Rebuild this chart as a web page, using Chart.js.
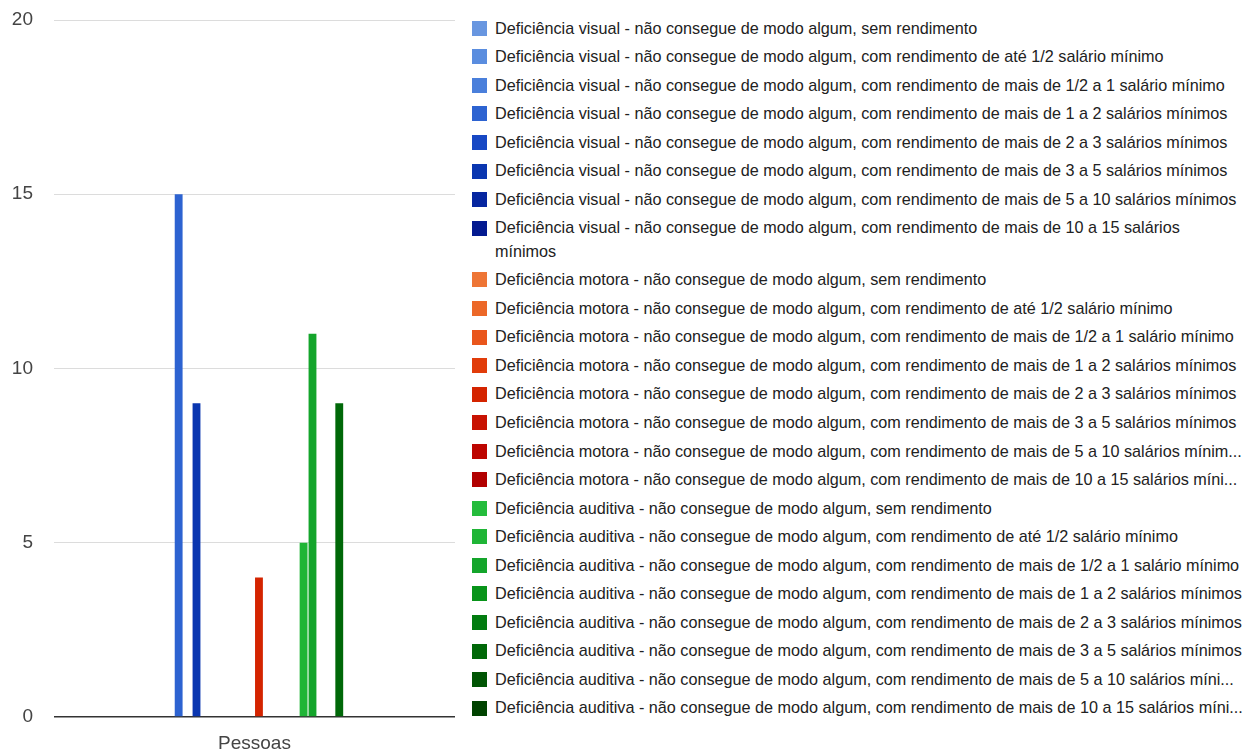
<!DOCTYPE html>
<html><head><meta charset="utf-8">
<script src="https://cdn.jsdelivr.net/npm/chart.js@4/dist/chart.umd.min.js"></script>
<style>
html,body{margin:0;padding:0;background:#fff;}
#wrap{position:relative;width:1255px;height:754px;overflow:hidden;background:#fff;}
#chartBox{position:absolute;left:0;top:0;width:470px;height:754px;}
#legend{position:absolute;left:472px;top:16.6px;font-family:Arial,"Liberation Sans",sans-serif;font-size:16.2px;color:#222;}
.item{display:flex;align-items:flex-start;line-height:23.3px;padding-bottom:5.25px;}
.sw{width:15px;height:15px;margin-top:4.2px;margin-right:8px;flex:none;}
.txt{white-space:pre;}
</style></head>
<body>
<div id="wrap">
  <div id="chartBox"><canvas id="c" width="470" height="754"></canvas></div>
  <div id="legend"></div>
</div>
<script>
const categories = ['Pessoas'];

const visualLabels = [
  'Deficiência visual - não consegue de modo algum, sem rendimento',
  'Deficiência visual - não consegue de modo algum, com rendimento de até 1/2 salário mínimo',
  'Deficiência visual - não consegue de modo algum, com rendimento de mais de 1/2 a 1 salário mínimo',
  'Deficiência visual - não consegue de modo algum, com rendimento de mais de 1 a 2 salários mínimos',
  'Deficiência visual - não consegue de modo algum, com rendimento de mais de 2 a 3 salários mínimos',
  'Deficiência visual - não consegue de modo algum, com rendimento de mais de 3 a 5 salários mínimos',
  'Deficiência visual - não consegue de modo algum, com rendimento de mais de 5 a 10 salários mínimos',
  'Deficiência visual - não consegue de modo algum, com rendimento de mais de 10 a 15 salários\nmínimos'
];
const motoraLabels = [
  'Deficiência motora - não consegue de modo algum, sem rendimento',
  'Deficiência motora - não consegue de modo algum, com rendimento de até 1/2 salário mínimo',
  'Deficiência motora - não consegue de modo algum, com rendimento de mais de 1/2 a 1 salário mínimo',
  'Deficiência motora - não consegue de modo algum, com rendimento de mais de 1 a 2 salários mínimos',
  'Deficiência motora - não consegue de modo algum, com rendimento de mais de 2 a 3 salários mínimos',
  'Deficiência motora - não consegue de modo algum, com rendimento de mais de 3 a 5 salários mínimos',
  'Deficiência motora - não consegue de modo algum, com rendimento de mais de 5 a 10 salários mínim...',
  'Deficiência motora - não consegue de modo algum, com rendimento de mais de 10 a 15 salários míni...'
];
const auditivaLabels = [
  'Deficiência auditiva - não consegue de modo algum, sem rendimento',
  'Deficiência auditiva - não consegue de modo algum, com rendimento de até 1/2 salário mínimo',
  'Deficiência auditiva - não consegue de modo algum, com rendimento de mais de 1/2 a 1 salário mínimo',
  'Deficiência auditiva - não consegue de modo algum, com rendimento de mais de 1 a 2 salários mínimos',
  'Deficiência auditiva - não consegue de modo algum, com rendimento de mais de 2 a 3 salários mínimos',
  'Deficiência auditiva - não consegue de modo algum, com rendimento de mais de 3 a 5 salários mínimos',
  'Deficiência auditiva - não consegue de modo algum, com rendimento de mais de 5 a 10 salários míni...',
  'Deficiência auditiva - não consegue de modo algum, com rendimento de mais de 10 a 15 salários míni...'
];

const visualValues   = [0, 0, 0, 15, 0, 9, 0, 0];
const motoraValues   = [0, 0, 0, 0, 4, 0, 0, 0];
const auditivaValues = [0, 5, 11, 0, 0, 9, 0, 0];

const visualColors   = ['#6896e0','#5a8ddf','#4a7fdb','#2d63d1','#1748c4','#0a36b0','#0626a0','#031a90'];
const motoraColors   = ['#ee7535','#ec6828','#e9561c','#e13c0a','#d42400','#c81202','#bd0500','#b20000'];
const auditivaColors = ['#24bc3c','#1fb536','#14a52b','#08941a','#027c10','#006808','#005504','#004300'];

const yTicks = [0, 5, 10, 15, 20];

const allLabels = visualLabels.concat(motoraLabels, auditivaLabels);
const allValues = visualValues.concat(motoraValues, auditivaValues);
const allColors = visualColors.concat(motoraColors, auditivaColors);

const datasets = allLabels.map((lab, i) => ({
  label: lab,
  data: [allValues[i]],
  backgroundColor: allColors[i],
  borderWidth: 0,
  categoryPercentage: 0.534,
  barPercentage: 0.88
}));

const chart = new Chart(document.getElementById('c'), {
  type: 'bar',
  data: { labels: categories, datasets: datasets },
  options: {
    responsive: false,
    animation: false,
    layout: { padding: { left: 0, right: 15, top: 20, bottom: 0 } },
    plugins: { legend: { display: false }, tooltip: { enabled: false } },
    scales: {
      x: {
        grid: { display: false },
        border: { display: false },
        ticks: { color: '#444', font: { family: 'Arial, "Liberation Sans"', size: 19 }, padding: 7 },
        afterFit: s => { s.height = 37; }
      },
      y: {
        min: yTicks[0], max: yTicks[yTicks.length - 1],
        afterBuildTicks: s => { s.ticks = yTicks.map(v => ({ value: v })); },
        grid: {
          drawTicks: true,
          tickLength: 21,
          tickColor: 'rgba(0,0,0,0)',
          color: ctx => (ctx.tick && ctx.tick.value === 0) ? '#333' : '#dcdcdc',
          lineWidth: ctx => (ctx.tick && ctx.tick.value === 0) ? 1.5 : 1
        },
        border: { display: false },
        ticks: { color: '#444', font: { family: 'Arial, "Liberation Sans"', size: 19 }, padding: 0 },
        afterFit: s => { s.width = 54; }
      }
    }
  }
});

const legend = document.getElementById('legend');
chart.data.datasets.forEach(ds => {
  const item = document.createElement('div');
  item.className = 'item';
  const sw = document.createElement('span');
  sw.className = 'sw';
  sw.style.background = ds.backgroundColor;
  const tx = document.createElement('span');
  tx.className = 'txt';
  tx.textContent = ds.label;
  item.appendChild(sw);
  item.appendChild(tx);
  legend.appendChild(item);
});
</script>
</body></html>
